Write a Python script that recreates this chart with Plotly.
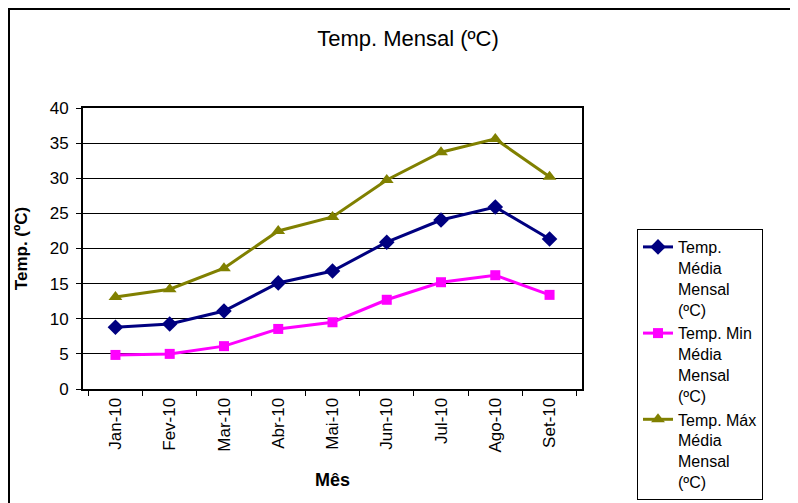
import plotly.graph_objects as go

months = ["Jan-10", "Fev-10", "Mar-10", "Abr-10", "Mai-10", "Jun-10", "Jul-10", "Ago-10", "Set-10"]
temp_media = [8.8, 9.25, 11.1, 15.1, 16.8, 20.9, 24.05, 25.9, 21.35]
temp_min = [4.85, 5.0, 6.1, 8.55, 9.5, 12.7, 15.2, 16.2, 13.4]
temp_max = [13.1, 14.2, 17.2, 22.5, 24.5, 29.75, 33.7, 35.6, 30.2]
names = ["Temp.<br>Média<br>Mensal<br>(ºC)", "Temp. Min<br>Média<br>Mensal<br>(ºC)", "Temp. Máx<br>Média<br>Mensal<br>(ºC)"]

FONT = "Liberation Sans, Arial, sans-serif"

fig = go.Figure()
fig.add_trace(go.Scatter(x=months, y=temp_media, name=names[0], mode="lines+markers",
                         line=dict(color="#000080", width=3),
                         marker=dict(symbol="diamond", size=12, color="#000080")))
fig.add_trace(go.Scatter(x=months, y=temp_min, name=names[1], mode="lines+markers",
                         line=dict(color="#FF00FF", width=3),
                         marker=dict(symbol="square", size=10, color="#FF00FF")))
fig.add_trace(go.Scatter(x=months, y=temp_max, name=names[2], mode="lines+markers",
                         line=dict(color="#808000", width=3),
                         marker=dict(symbol="triangle-up", size=12, color="#808000")))

# page has an 8px body margin: figure origin sits at page (8, 8)
OFF = 8
W, H = 798 - OFF, 503 - OFF
L, R, T, B = 83 - OFF, 582 - OFF, 108 - OFF, 389 - OFF
pw, ph = R - L, B - T

def px(x):
    return (x - OFF - L) / pw

def py(y):
    return (B - (y - OFF)) / ph

fig.update_layout(
    width=W, height=H,
    margin=dict(l=L, r=W - R, t=T, b=H - B, autoexpand=False),
    paper_bgcolor="white", plot_bgcolor="white",
    font=dict(family=FONT, color="black"),
    title=dict(text="Temp. Mensal (ºC)", x=(408 - OFF) / W, xref="container", xanchor="center",
               y=1 - (38 - OFF) / H, yref="container", yanchor="middle",
               font=dict(size=22, family=FONT, color="black")),
    showlegend=True,
    legend=dict(x=px(637), y=py(229), xanchor="left", yanchor="top",
                bordercolor="black", borderwidth=1, bgcolor="white",
                font=dict(size=16, family=FONT, color="black"),
                valign="top", tracegroupgap=0, itemwidth=30, entrywidth=112,
                maxheight=320),
    xaxis=dict(type="category", showline=True, linecolor="black", linewidth=2, mirror=True,
               ticks="outside", ticklen=5, tickcolor="black", tickwidth=1, tickson="boundaries",
               tickangle=-90, tickfont=dict(size=17, family=FONT), automargin=False,
               showgrid=False, zeroline=False,
               title=dict(text="<b>Mês</b>", font=dict(size=18, family=FONT), standoff=22)),
    yaxis=dict(range=[0, 40], dtick=5, showline=True, linecolor="black", linewidth=2, mirror=True,
               ticks="outside", ticklen=5, tickcolor="black", tickwidth=1, ticklabelstandoff=4,
               tickfont=dict(size=17, family=FONT), automargin=False,
               showgrid=True, gridcolor="black", gridwidth=1, zeroline=False,
               title=dict(text="<b>Temp. (ºC)</b>", font=dict(size=17, family=FONT), standoff=18)),
)

fig.add_shape(type="rect", xref="paper", yref="paper",
              x0=px(9), x1=px(797), y0=py(515), y1=py(9),
              line=dict(color="black", width=2), fillcolor="rgba(0,0,0,0)", layer="below")

fig.write_html("out.html")
